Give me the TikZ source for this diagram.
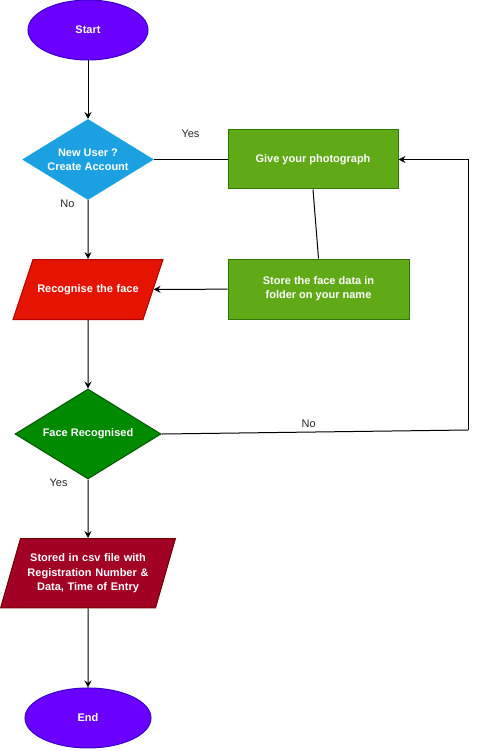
\documentclass[tikz,border=0pt]{standalone}
\usepackage{fontspec}
\setmainfont{Liberation Sans}
\usetikzlibrary{positioning, arrows.meta, shapes.geometric}

\definecolor{termfill}{HTML}{6A00FF}
\definecolor{termline}{HTML}{3700CC}
\definecolor{askfill}{HTML}{1BA1E2}
\definecolor{askline}{HTML}{1BA1E2}
\definecolor{stepfill}{HTML}{60A917}
\definecolor{stepline}{HTML}{2D7600}
\definecolor{recogfill}{HTML}{E51400}
\definecolor{recogline}{HTML}{B20000}
\definecolor{checkfill}{HTML}{008A00}
\definecolor{checkline}{HTML}{005700}
\definecolor{savefill}{HTML}{A20025}
\definecolor{saveline}{HTML}{6F0000}

\begin{document}
\begin{tikzpicture}[
        x=1pt, y=1pt,
        node distance=59pt,
        every node/.style={font=\fontsize{11}{14}\selectfont},
        boxtext/.style={text=white, align=center, font=\fontsize{11}{14.3}\selectfont\bfseries, line width=1pt},
        terminal/.style={ellipse, boxtext, draw=termline, fill=termfill, minimum width=120pt, minimum height=60pt},
        decision/.style={diamond, boxtext, inner sep=0pt},
        process/.style={rectangle, boxtext, draw=stepline, fill=stepfill},
        io/.style={trapezium, boxtext, inner xsep=0pt},
        lbl/.style={inner sep=0pt, text=black!85},
        edge/.style={-{Stealth[length=7pt, width=7pt, inset=2.5pt]}, line width=1pt},
        link/.style={line width=1pt}
    ]
        \useasboundingbox (0,0) rectangle (477,-751);
        % Main column
        \node[terminal] (start) at (88,-30) {Start};
        \node[decision, draw=askline, fill=askfill, minimum width=130pt, minimum height=80pt, aspect=1.625, below=58.5pt of start] (newuser) {New User ?\\Create Account};
        \node[io, draw=recogline, fill=recogfill, trapezium left angle=71.57, trapezium right angle=108.43, text width=110pt, inner ysep=24.85pt, below=of newuser] (recog) {Recognise the face};
        \node[decision, draw=checkline, fill=checkfill, minimum width=146pt, minimum height=90pt, aspect=1.62, below=68.5pt of recog] (facecheck) {Face Recognised};
        \node[io, draw=saveline, fill=savefill, trapezium left angle=74, trapezium right angle=106, text width=135pt, inner ysep=15.3pt, below=58.5pt of facecheck] (stored) {Stored in csv file with\\Registration Number \&\\Data, Time of Entry};
        \node[terminal, minimum width=126pt, below=79pt of stored] (finish) {End};
        % Registration column
        \node[process, minimum width=170pt, minimum height=59pt, right=74pt of newuser] (photo) {Give your photograph};
        \node[process, minimum width=181pt, minimum height=60pt, below=69pt of photo.south west, anchor=north west] (store) {Store the face data in\\folder on your name};
        \coordinate (loop) at (468,-430);
        % Edges
        \draw[edge] (start) -- (newuser);
        \draw[link] (newuser) -- node[lbl, midway, above=21pt] {Yes} (photo);
        \draw[edge] (newuser) -- node[lbl, pos=0.07, left=13pt] {No} (recog);
        \draw[link] (photo.south) -- (store.north);
        \draw[edge] (store) -- (recog);
        \draw[edge] (recog) -- (facecheck);
        \draw[link] (facecheck.east) -- node[lbl, pos=0.48, above=4pt] {No} (loop);
        \draw[edge] (loop) |- (photo.east);
        \draw[edge] (facecheck) -- node[lbl, pos=0.05, left=20pt] {Yes} (stored);
        \draw[edge] (stored) -- (finish);
    \end{tikzpicture}
\end{document}
